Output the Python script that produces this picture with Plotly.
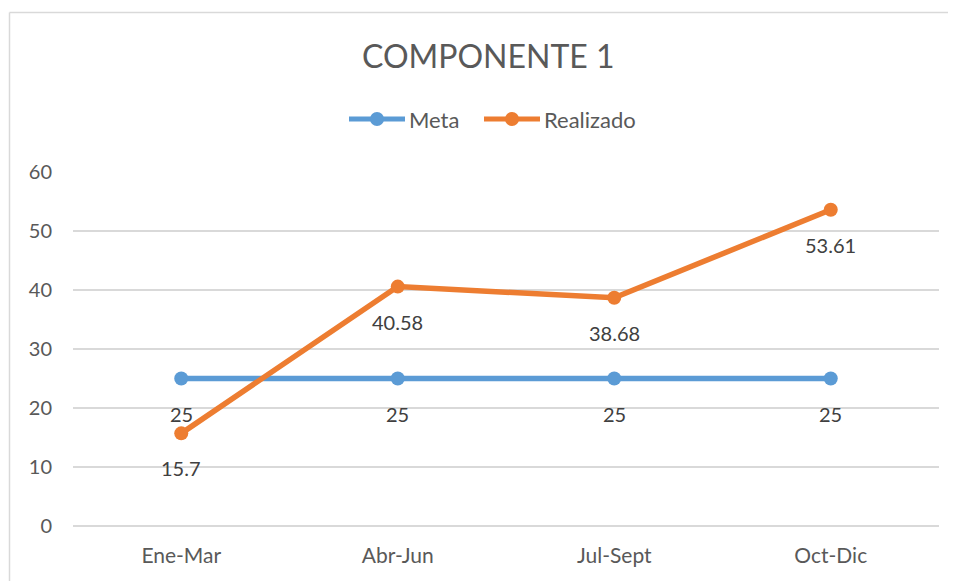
import plotly.graph_objects as go

categories = ["Ene-Mar", "Abr-Jun", "Jul-Sept", "Oct-Dic"]
meta = [25, 25, 25, 25]
realizado = [15.7, 40.58, 38.68, 53.61]
meta_labels = ["25", "25", "25", "25"]
realizado_labels = ["15.7", "40.58", "38.68", "53.61"]
y_ticks = [0, 10, 20, 30, 40, 50, 60]
series_names = ["Meta", "Realizado"]

W, H = 956, 581
OFF = 8  # page body margin: figure is drawn at (8, 8) in the window
# target plot box in window pixels: left 73, right 939, top 172, bottom 526
L = 73 - OFF
T = 172 - OFF
R = W - (939 - OFF)
B = H - (526 - OFF)
pw, ph = W - L - R, H - T - B

def px_x(p):  # window pixel -> paper x
    return (p - OFF - L) / pw

def px_y(p):  # window pixel -> paper y
    return (H - B - (p - OFF)) / ph

FONT = "Lato"
BLUE = "#5B9BD5"
ORANGE = "#ED7D31"
colors = [BLUE, ORANGE]

fig = go.Figure()
for name, vals, col in zip(series_names, [meta, realizado], colors):
    fig.add_trace(go.Scatter(x=categories, y=vals, name=name, mode="lines+markers",
                             line=dict(color=col, width=5.5), marker=dict(size=14, color=col),
                             cliponaxis=False, showlegend=False))

annotations = []
for ys, ts in [(meta, meta_labels), (realizado, realizado_labels)]:
    for c, v, t in zip(categories, ys, ts):
        annotations.append(dict(x=c, y=v, text=t, showarrow=False, yshift=-35,
                                xanchor="center", yanchor="middle",
                                font=dict(family=FONT, size=20, color="#404040")))
annotations.append(dict(xref="paper", yref="paper", x=px_x(488), y=px_y(56),
                        text="COMPONENTE 1", showarrow=False, xanchor="center", yanchor="middle",
                        font=dict(family=FONT, size=32, color="#595959")))

# legend (drawn manually to match the long line symbols)
shapes = []
leg_y = px_y(119)
for name, col, x0 in zip(series_names, colors, [349, 484]):
    shapes.append(dict(type="line", xref="paper", yref="paper", x0=px_x(x0), x1=px_x(x0 + 56),
                       y0=leg_y, y1=leg_y, line=dict(color=col, width=5)))
    shapes.append(dict(type="circle", xref="paper", yref="paper",
                       x0=px_x(x0 + 28 - 7), x1=px_x(x0 + 28 + 7),
                       y0=px_y(119 + 7), y1=px_y(119 - 7),
                       line=dict(color=col, width=0), fillcolor=col))
    annotations.append(dict(xref="paper", yref="paper", x=px_x(x0 + 58), y=leg_y, text=name,
                            showarrow=False, xanchor="left", yanchor="middle",
                            font=dict(family=FONT, size=22, color="#595959")))

# chart-area border (only top and left edges are visible in the crop)
shapes.append(dict(type="line", xref="paper", yref="paper",
                   x0=px_x(9.5), x1=px_x(970), y0=px_y(12.5), y1=px_y(12.5),
                   line=dict(color="#D9D9D9", width=1.5), layer="below"))
shapes.append(dict(type="line", xref="paper", yref="paper",
                   x0=px_x(9.5), x1=px_x(9.5), y0=px_y(12.5), y1=px_y(600),
                   line=dict(color="#D9D9D9", width=1.5), layer="below"))

fig.update_layout(
    width=W, height=H,
    margin=dict(l=L, r=R, t=T, b=B),
    paper_bgcolor="white", plot_bgcolor="white",
    showlegend=False,
    annotations=annotations,
    shapes=shapes,
    xaxis=dict(type="category", range=[-0.5, 3.5], showgrid=False, zeroline=False,
               showline=False, ticks="", ticklabelstandoff=15,
               tickfont=dict(family=FONT, size=21, color="#595959")),
    yaxis=dict(range=[0, 60], tickvals=y_ticks, showgrid=True, gridcolor="#D9D9D9", gridwidth=1.5,
               zeroline=True, zerolinecolor="#D9D9D9", zerolinewidth=1.5,
               showline=False, ticks="", ticklabelstandoff=20,
               tickfont=dict(family=FONT, size=20, color="#595959")),
)

fig.write_html("out.html")
